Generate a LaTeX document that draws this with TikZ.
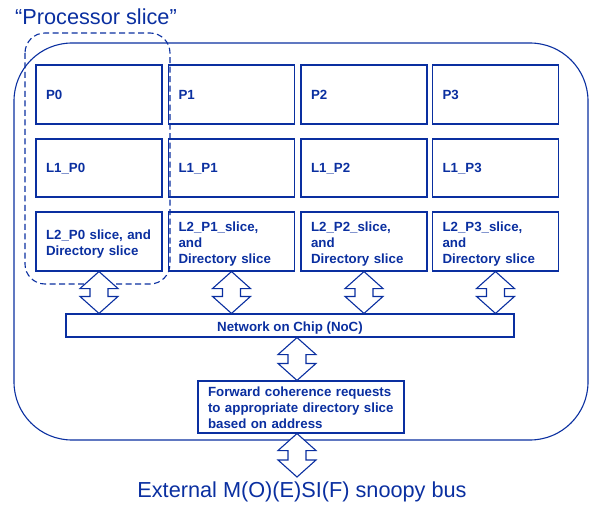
\documentclass[tikz,border=0pt]{standalone}
\usepackage{fontspec}
\setmainfont{Liberation Sans}
\usetikzlibrary{calc}
\definecolor{ppblue}{HTML}{0A2FA0}
\tikzset{
  box/.style={draw=ppblue, line width=1.1pt, fill=white, minimum width=126pt, minimum height=59pt,
    text width=106pt, inner xsep=10pt, inner ysep=0pt, align=left, text=ppblue,
    font=\bfseries\fontsize{13.3}{16}\selectfont},
  nocbox/.style={draw=ppblue, line width=1.1pt, fill=white, minimum width=448pt, minimum height=23pt,
    inner sep=0pt, text height=15pt, text depth=3pt, text=ppblue, font=\bfseries\fontsize{13.3}{16}\selectfont},
  fwdbox/.style={draw=ppblue, line width=1.1pt, fill=white, minimum width=206pt, minimum height=52pt,
    text width=186pt, inner xsep=10pt, inner ysep=0pt, align=left, text=ppblue,
    font=\bfseries\fontsize{13.3}{16}\selectfont, text depth=30pt},
  bigtext/.style={text=ppblue, font=\fontsize{21.7}{26}\selectfont, inner sep=0pt},
  outline/.style={draw=ppblue, line width=1.1pt},
  dasharea/.style={draw=ppblue, line width=1.1pt, dash pattern=on 6pt off 3.5pt},
  blockarrow/.style={draw=ppblue, line width=1.1pt, fill=white},
}
\newcommand{\dblarrow}[2]{%
  \path[blockarrow] let \p1=(#1), \p2=(#2) in
    (\x1,\y1) -- (\x1+19pt,\y1-17pt) -- (\x1+9pt,\y1-17pt) -- (\x1+9pt,\y2+17pt) -- (\x1+19pt,\y2+17pt)
    -- (\x1,\y2) -- (\x1-19pt,\y2+17pt) -- (\x1-9pt,\y2+17pt) -- (\x1-9pt,\y1-17pt) -- (\x1-19pt,\y1-17pt) -- cycle;}
\begin{document}
\begin{tikzpicture}[x=1pt, y=-1pt]
\useasboundingbox (0,0) rectangle (597,505);
% outer chip
\draw[outline, rounded corners=58pt] (14,43) rectangle (588,440);
% title
\node[bigtext, anchor=base west] (title) at (15,25) {“Processor slice”};
% boxes
\foreach \i/\cx in {0/99, 1/231.5, 2/364, 3/495.5} {
  \node[box, text depth=-5pt] (p\i) at (\cx,94.5) {P\i};
  \node[box, minimum height=58pt, text depth=-4pt] (l\i) at (\cx,168) {L1\_P\i};
}
\node[box, text depth=13pt] (l2p0) at (99,241.5) {L2\_P0 slice, and\\Directory slice};
\node[box, text depth=29pt] (l2p1) at (231.5,241.5) {L2\_P1\_slice,\\and\\Directory slice};
\node[box, text depth=29pt] (l2p2) at (364,241.5) {L2\_P2\_slice,\\and\\Directory slice};
\node[box, text depth=29pt] (l2p3) at (495.5,241.5) {L2\_P3\_slice,\\and\\Directory slice};
% dashed processor slice
\draw[dasharea, rounded corners=20pt] (25,33) rectangle (170,284);
% NoC
\node[nocbox] (noc) at (290,325.5) {Network on Chip (NoC)};
% forward box
\node[fwdbox] (fwd) at (301,407) {Forward coherence requests\\to appropriate directory slice\\based on address};
% bus label
\node[bigtext, anchor=base] (bus) at (302,497) {External M(O)(E)SI(F) snoopy bus};
\coordinate (busin) at (297,477);
\coordinate (nocout) at ($(noc.south)+(7,0)$);
\coordinate (fwdin) at ($(fwd.north)+(-4,0)$);
\coordinate (fwdout) at ($(fwd.south)+(-4,0)$);
% arrows
\foreach \nm in {l2p0,l2p1,l2p2,l2p3} {
  \dblarrow{\nm.south}{\nm.south |- noc.north}
}
\dblarrow{nocout}{fwdin}
\dblarrow{fwdout}{busin}
\end{tikzpicture}
\end{document}
